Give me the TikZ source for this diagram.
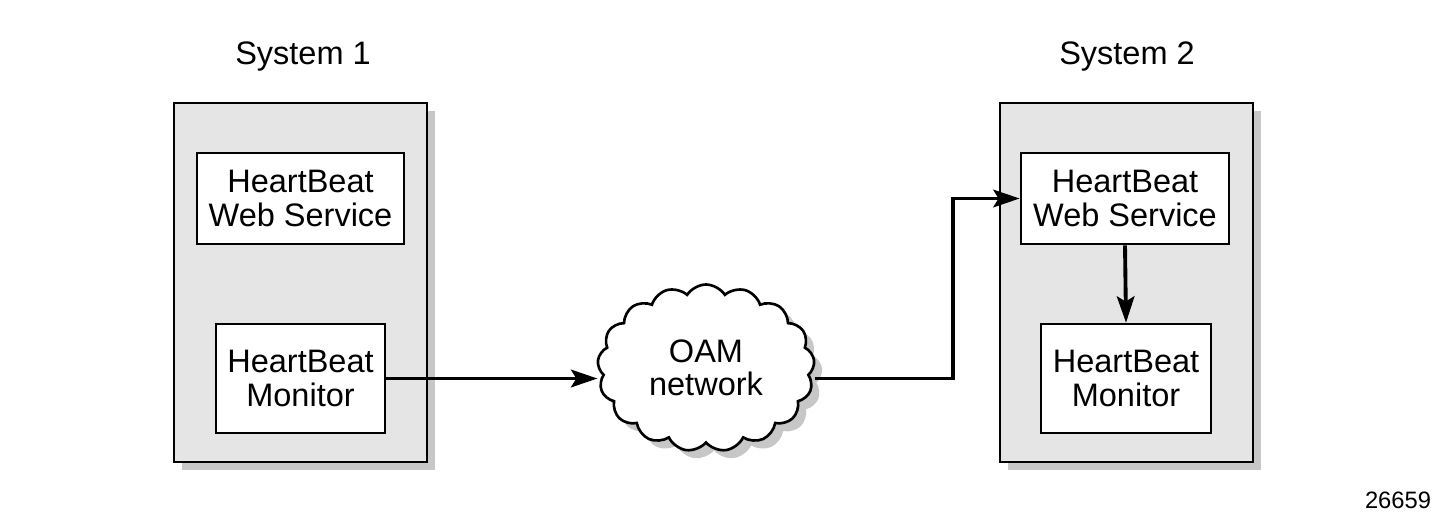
\documentclass[tikz,border=0pt]{standalone}
\usepackage{fontspec}
\setmainfont{Liberation Sans}
\usepackage{tikz}
\usetikzlibrary{shapes,arrows.meta,positioning,calc,shapes.symbols,shadows}

\begin{document}
\begin{tikzpicture}[>={Stealth[length=15pt,width=10pt,inset=3pt]}, font=\fontsize{18.5}{19}\selectfont]
  % Styles
  \tikzstyle{system} = [rectangle, draw, line width=1.6pt, fill=black!10, minimum width=5.06cm, minimum height=7.18cm, drop shadow={shadow xshift=0.16cm, shadow yshift=-0.16cm, fill=black!22, opacity=1}]
  \tikzstyle{service} = [rectangle, draw, line width=1.5pt, fill=white, align=center, inner sep=0pt]
  \tikzstyle{network} = [cloud, draw, line width=1.5pt, fill=white, align=center, cloud puffs=17, cloud puff arc=115, aspect=1.3, minimum width=4.34cm, minimum height=3.34cm, inner sep=0pt, drop shadow={shadow xshift=0.16cm, shadow yshift=-0.16cm, fill=black!22, opacity=1}]
  \tikzstyle{link} = [->, line width=2.2pt]

  \useasboundingbox (0,0) rectangle (28.7,10.38);

  % Systems
  \node [system] (sysA) at (6.01,4.73) {};
  \node [system] (sysB) at (22.53,4.73) {};
  \node (labelA) at (6.06,9.24) {System 1};
  \node (labelB) at (22.54,9.24) {System 2};

  % Services
  \node [service, minimum width=4.14cm, minimum height=1.82cm] (webA) at (6.01,6.41) {HeartBeat\\Web Service};
  \node [service, minimum width=3.38cm, minimum height=2.18cm] (monA) at (6.01,2.81) {HeartBeat\\Monitor};
  \node [service, minimum width=4.16cm, minimum height=1.82cm] (webB) at (22.5,6.41) {HeartBeat\\Web Service};
  \node [service, minimum width=3.4cm, minimum height=2.18cm] (monB) at (22.52,2.81) {HeartBeat\\Monitor};

  % Network
  \node [network] (oam) at (14.12,3.02) {OAM\\network};
  \coordinate (turn) at (19.06,3.02);

  % Paths / Edges
  \draw [link] (monA.east) -- (oam.west |- monA.east);
  \draw [link] (oam.east |- monA.east) -- (turn |- monA.east) |- (webB.west);
  \draw [link] (webB.south) -- (monB.north);

  \node [font=\fontsize{13.5}{15}\selectfont] (figno) at (27.96,0.38) {26659};
\end{tikzpicture}
\end{document}
